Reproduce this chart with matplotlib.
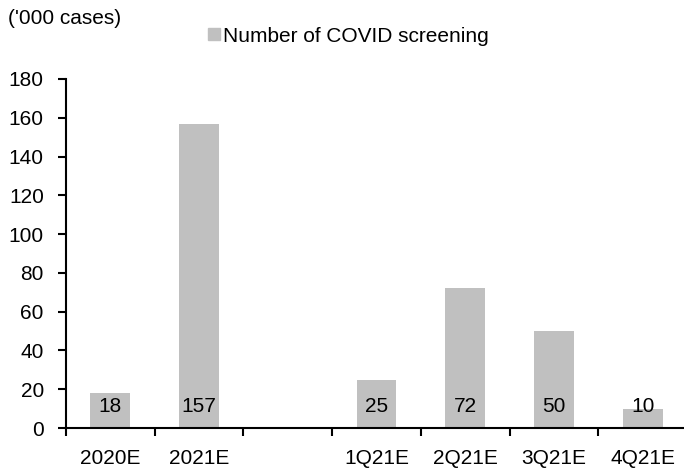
import matplotlib
matplotlib.use("Agg")
import matplotlib.pyplot as plt
import numpy as np

categories = ["2020E", "2021E", "", "1Q21E", "2Q21E", "3Q21E", "4Q21E"]
values = [18, 157, None, 25, 72, 50, 10]
value_labels = ["18", "157", "", "25", "72", "50", "10"]
series_name = "Number of COVID screening"
unit_label = "('000 cases)"
y_ticks = [0, 20, 40, 60, 80, 100, 120, 140, 160, 180]

FS = 15
plt.rcParams['font.family'] = ['Liberation Sans', 'DejaVu Sans']
fig = plt.figure(figsize=(6.84, 4.70), dpi=100)
ax = fig.add_axes([66/684, 1-428/470, (687-66)/684, (428-79)/470])

x = np.arange(len(categories))
vals = [v if v is not None else 0 for v in values]
bar_color = "#C0C0C0"
ax.bar(x, vals, width=0.45, color=bar_color, zorder=2)
for xi, lab in zip(x, value_labels):
    if lab:
        ax.text(xi, 11.0, lab, ha="center", va="center", fontsize=FS, color="#000000", zorder=3)

ax.set_xlim(-0.5, len(categories) - 0.5)
ax.set_ylim(0, 180)
ax.set_yticks(y_ticks)
ax.set_xticks(x)
ax.set_xticklabels(categories)
ax.set_xticks(np.arange(len(categories)) - 0.5, minor=True)
ax.tick_params(axis="x", which="major", length=0, pad=15, labelsize=FS)
ax.tick_params(axis="x", which="minor", length=6, width=1.5, direction="out")
ax.tick_params(axis="y", length=6, width=1.5, direction="out", labelsize=FS, pad=10)
for s in ["top", "right"]:
    ax.spines[s].set_visible(False)
for s in ["left", "bottom"]:
    ax.spines[s].set_linewidth(1.5)
    ax.spines[s].set_color("black")
ax.spines["bottom"].set_zorder(4)

fig.text(8/684, 1-19/470, unit_label, fontsize=FS, va="center", ha="left")
fig.patches.append(plt.Rectangle((208/684, 1-40/470), 12/684, 12/470, transform=fig.transFigure, color=bar_color, figure=fig))
fig.text(223/684, 1-36/470, series_name, fontsize=FS, va="center", ha="left")

fig.savefig("out.png", dpi=100)
